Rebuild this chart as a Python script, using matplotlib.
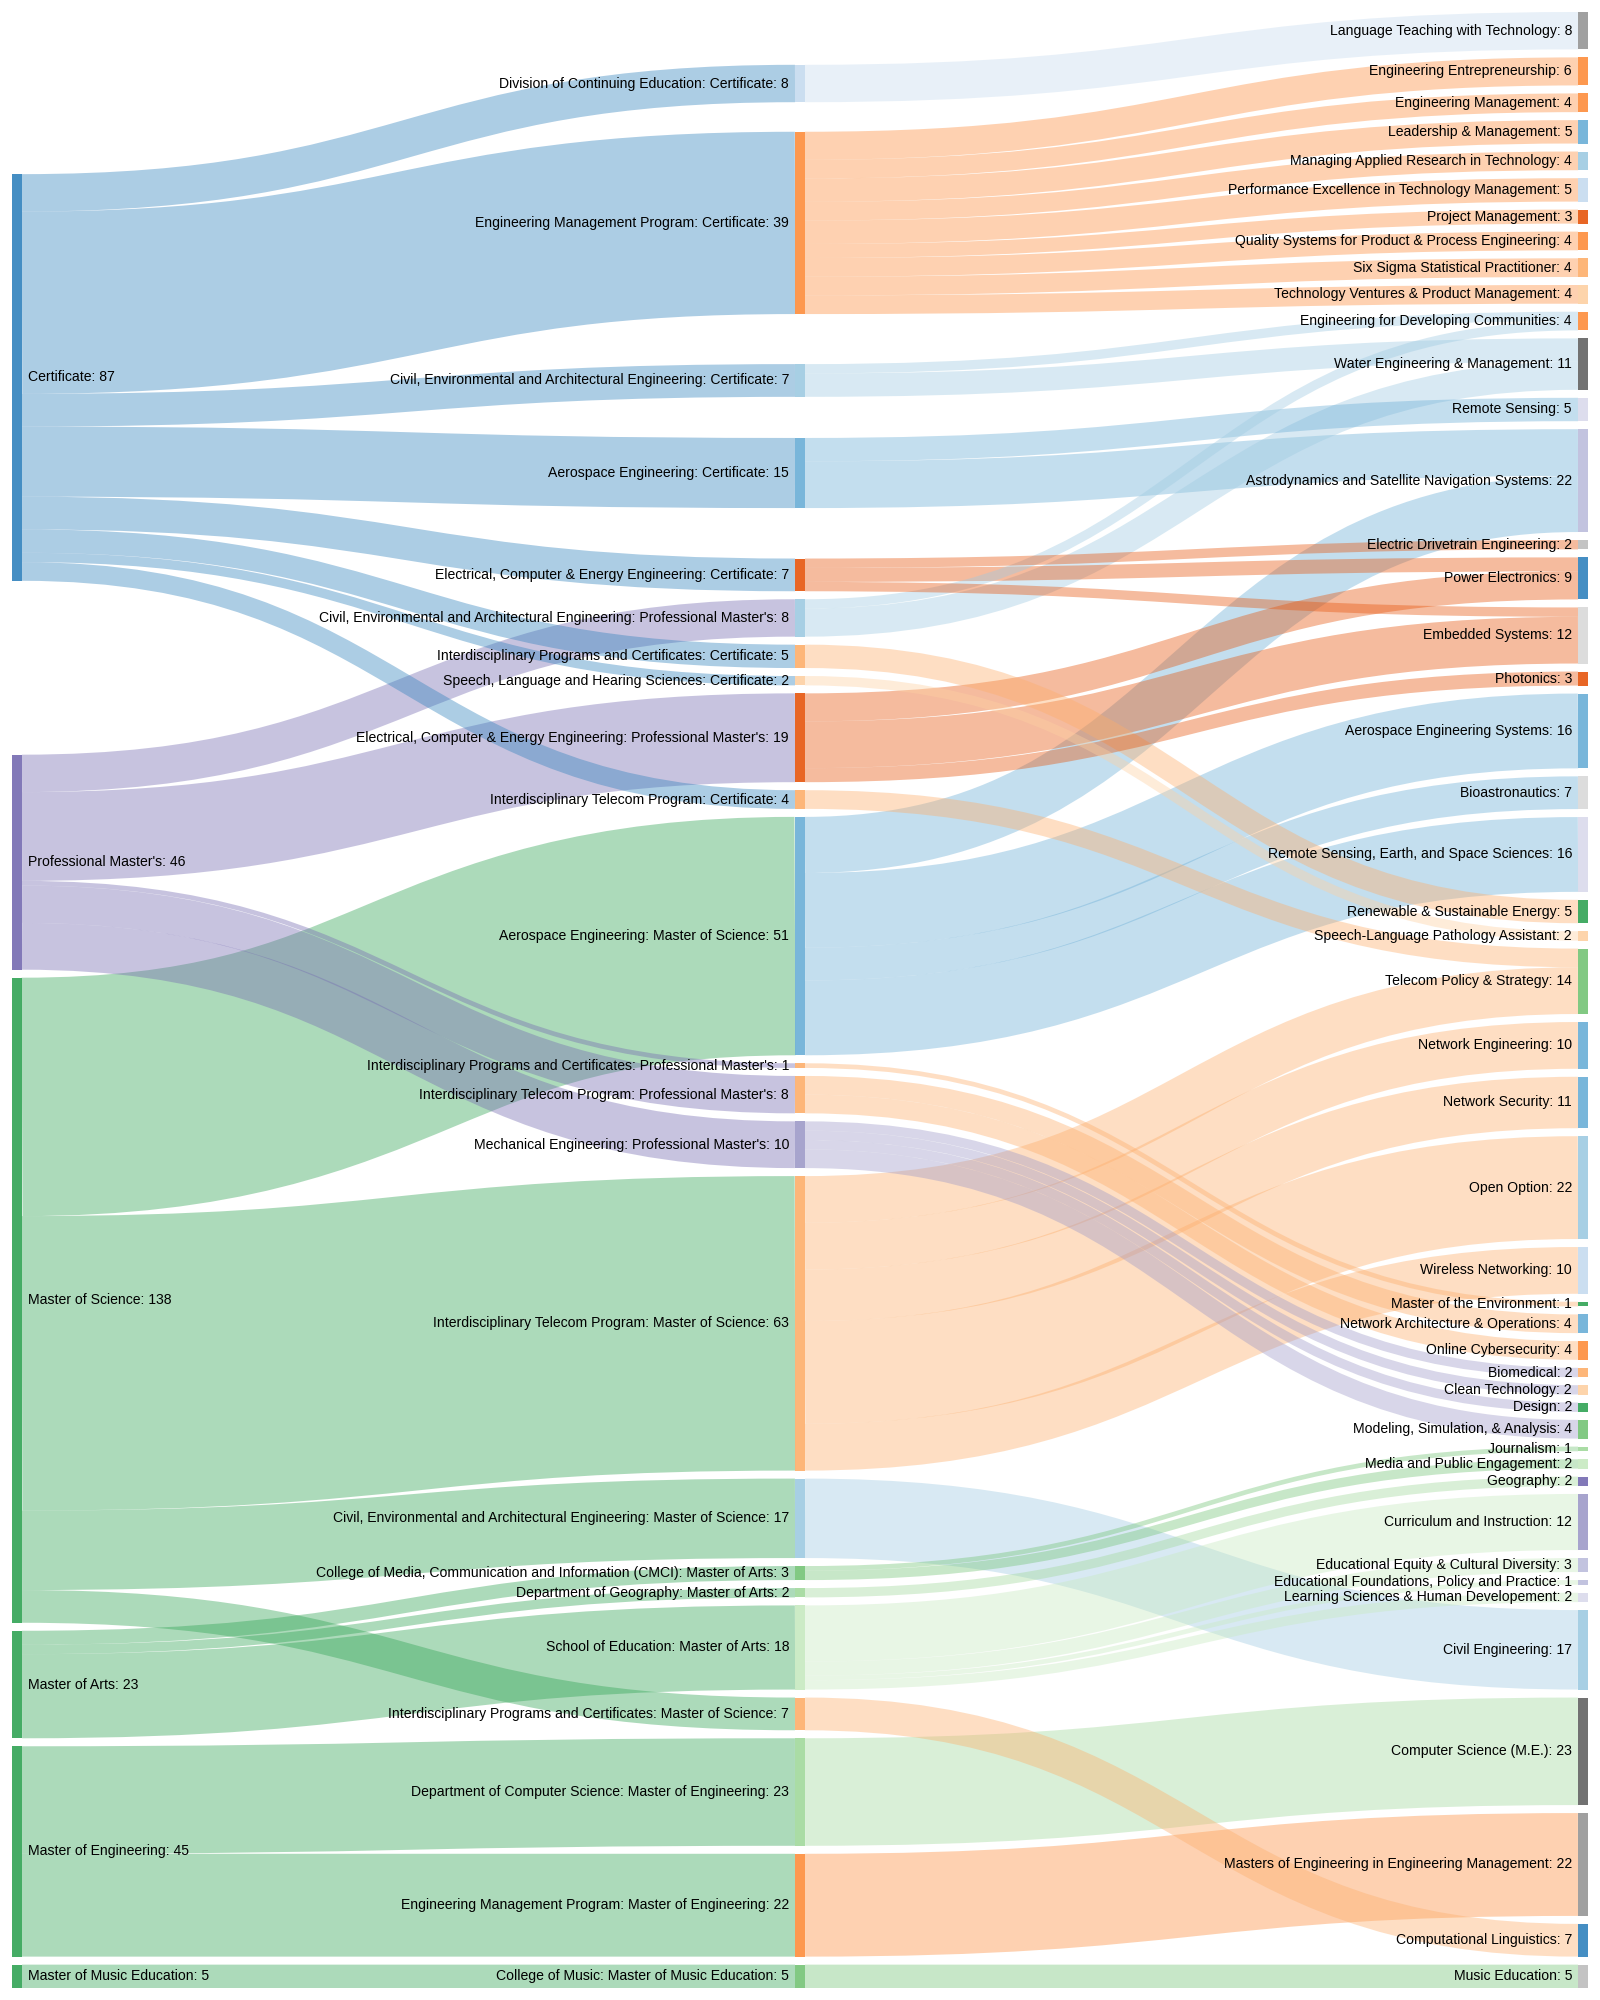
import re

import matplotlib

matplotlib.use("Agg")
import matplotlib.pyplot as plt
from matplotlib.patches import PathPatch, Rectangle
from matplotlib.path import Path

# ---- data -----------------------------------------------------------------

DEGREES = [
    "Certificate",
    "Professional Master's",
    "Master of Science",
    "Master of Arts",
    "Master of Engineering",
    "Master of Music Education",
]

# degree -> program (middle column, in display order)
PROGRAM_SOURCE = [
    "Certificate", "Certificate", "Certificate", "Certificate", "Certificate",
    "Professional Master's", "Certificate", "Certificate", "Professional Master's",
    "Certificate", "Master of Science", "Professional Master's", "Professional Master's",
    "Professional Master's", "Master of Science", "Master of Science", "Master of Arts",
    "Master of Arts", "Master of Arts", "Master of Science", "Master of Engineering",
    "Master of Engineering", "Master of Music Education",
]
PROGRAMS = [
    "Division of Continuing Education: Certificate",
    "Engineering Management Program: Certificate",
    "Civil, Environmental and Architectural Engineering: Certificate",
    "Aerospace Engineering: Certificate",
    "Electrical, Computer & Energy Engineering: Certificate",
    "Civil, Environmental and Architectural Engineering: Professional Master's",
    "Interdisciplinary Programs and Certificates: Certificate",
    "Speech, Language and Hearing Sciences: Certificate",
    "Electrical, Computer & Energy Engineering: Professional Master's",
    "Interdisciplinary Telecom Program: Certificate",
    "Aerospace Engineering: Master of Science",
    "Interdisciplinary Programs and Certificates: Professional Master's",
    "Interdisciplinary Telecom Program: Professional Master's",
    "Mechanical Engineering: Professional Master's",
    "Interdisciplinary Telecom Program: Master of Science",
    "Civil, Environmental and Architectural Engineering: Master of Science",
    "College of Media, Communication and Information (CMCI): Master of Arts",
    "Department of Geography: Master of Arts",
    "School of Education: Master of Arts",
    "Interdisciplinary Programs and Certificates: Master of Science",
    "Department of Computer Science: Master of Engineering",
    "Engineering Management Program: Master of Engineering",
    "College of Music: Master of Music Education",
]
PROGRAM_VALUE = [8, 39, 7, 15, 7, 8, 5, 2, 19, 4, 51, 1, 8, 10, 63, 17, 3, 2, 18, 7, 23, 22, 5]

# program -> track (right column, in display order)
TRACK_SOURCE = [
    "Division of Continuing Education: Certificate",
    "Engineering Management Program: Certificate",
    "Engineering Management Program: Certificate",
    "Engineering Management Program: Certificate",
    "Engineering Management Program: Certificate",
    "Engineering Management Program: Certificate",
    "Engineering Management Program: Certificate",
    "Engineering Management Program: Certificate",
    "Engineering Management Program: Certificate",
    "Engineering Management Program: Certificate",
    "Civil, Environmental and Architectural Engineering: Certificate",
    "Civil, Environmental and Architectural Engineering: Professional Master's",
    "Civil, Environmental and Architectural Engineering: Certificate",
    "Civil, Environmental and Architectural Engineering: Professional Master's",
    "Aerospace Engineering: Certificate",
    "Aerospace Engineering: Certificate",
    "Aerospace Engineering: Master of Science",
    "Electrical, Computer & Energy Engineering: Certificate",
    "Electrical, Computer & Energy Engineering: Certificate",
    "Electrical, Computer & Energy Engineering: Professional Master's",
    "Electrical, Computer & Energy Engineering: Certificate",
    "Electrical, Computer & Energy Engineering: Professional Master's",
    "Electrical, Computer & Energy Engineering: Professional Master's",
    "Aerospace Engineering: Master of Science",
    "Aerospace Engineering: Master of Science",
    "Aerospace Engineering: Master of Science",
    "Interdisciplinary Programs and Certificates: Certificate",
    "Speech, Language and Hearing Sciences: Certificate",
    "Interdisciplinary Telecom Program: Certificate",
    "Interdisciplinary Telecom Program: Master of Science",
    "Interdisciplinary Telecom Program: Master of Science",
    "Interdisciplinary Telecom Program: Master of Science",
    "Interdisciplinary Telecom Program: Master of Science",
    "Interdisciplinary Telecom Program: Master of Science",
    "Interdisciplinary Programs and Certificates: Professional Master's",
    "Interdisciplinary Telecom Program: Professional Master's",
    "Interdisciplinary Telecom Program: Professional Master's",
    "Mechanical Engineering: Professional Master's",
    "Mechanical Engineering: Professional Master's",
    "Mechanical Engineering: Professional Master's",
    "Mechanical Engineering: Professional Master's",
    "College of Media, Communication and Information (CMCI): Master of Arts",
    "College of Media, Communication and Information (CMCI): Master of Arts",
    "Department of Geography: Master of Arts",
    "School of Education: Master of Arts",
    "School of Education: Master of Arts",
    "School of Education: Master of Arts",
    "School of Education: Master of Arts",
    "Civil, Environmental and Architectural Engineering: Master of Science",
    "Department of Computer Science: Master of Engineering",
    "Engineering Management Program: Master of Engineering",
    "Interdisciplinary Programs and Certificates: Master of Science",
    "College of Music: Master of Music Education",
]
TRACK_TARGET = [
    "Language Teaching with Technology",
    "Engineering Entrepreneurship",
    "Engineering Management",
    "Leadership & Management",
    "Managing Applied Research in Technology",
    "Performance Excellence in Technology Management",
    "Project Management",
    "Quality Systems for Product & Process Engineering",
    "Six Sigma Statistical Practitioner",
    "Technology Ventures & Product Management",
    "Engineering for Developing Communities",
    "Engineering for Developing Communities",
    "Water Engineering & Management",
    "Water Engineering & Management",
    "Remote Sensing",
    "Astrodynamics and Satellite Navigation Systems",
    "Astrodynamics and Satellite Navigation Systems",
    "Electric Drivetrain Engineering",
    "Power Electronics",
    "Power Electronics",
    "Embedded Systems",
    "Embedded Systems",
    "Photonics",
    "Aerospace Engineering Systems",
    "Bioastronautics",
    "Remote Sensing, Earth, and Space Sciences",
    "Renewable & Sustainable Energy",
    "Speech-Language Pathology Assistant",
    "Telecom Policy & Strategy",
    "Telecom Policy & Strategy",
    "Network Engineering",
    "Network Security",
    "Open Option",
    "Wireless Networking",
    "Master of the Environment",
    "Network Architecture & Operations",
    "Online Cybersecurity",
    "Biomedical",
    "Clean Technology",
    "Design",
    "Modeling, Simulation, & Analysis",
    "Journalism",
    "Media and Public Engagement",
    "Geography",
    "Curriculum and Instruction",
    "Educational Equity & Cultural Diversity",
    "Educational Foundations, Policy and Practice",
    "Learning Sciences & Human Developement",
    "Civil Engineering",
    "Computer Science (M.E.)",
    "Masters of Engineering in Engineering Management",
    "Computational Linguistics",
    "Music Education",
]
TRACK_VALUE = [
    8, 6, 4, 5, 4, 5, 3, 4, 4, 4, 2, 2, 5, 6, 5, 10, 12, 2, 3, 6, 2, 10, 3,
    16, 7, 16, 5, 2, 4, 10, 10, 11, 22, 10, 1, 4, 4, 2, 2, 2, 4, 1, 2, 2,
    12, 3, 1, 2, 17, 23, 22, 7, 5,
]

# ---- style ----------------------------------------------------------------

PALETTE = [
    "#3182bd", "#6baed6", "#9ecae1", "#c6dbef", "#e6550d", "#fd8d3c", "#fdae6b", "#fdd0a2",
    "#31a354", "#74c476", "#a1d99b", "#c7e9c0", "#756bb1", "#9e9ac8", "#bcbddc", "#dadaeb",
    "#636363", "#969696", "#bdbdbd", "#d9d9d9",
]
# colour keys (first word of the name), in the order the ordinal scale saw them
COLOR_KEYS = [
    "Certificate", "Aerospace", "Civil", "Division", "Electrical", "Engineering",
    "Interdisciplinary", "Speech", "Master", "College", "Department", "School",
    "Professional", "Mechanical", "Astrodynamics", "Remote", "Water", "Language",
    "Electric", "Embedded", "Power", "Leadership", "Managing", "Performance", "Project",
    "Quality", "Six", "Technology", "Renewable", "Telecom", "Journalism", "Media",
    "Geography", "Curriculum", "Educational", "Learning", "Computer", "Masters", "Music",
    "Bioastronautics", "Computational", "Network", "Open", "Wireless", "Photonics",
    "Online", "Biomedical", "Clean", "Design", "Modeling",
]

W, H = 1600, 2000
MARGIN = 12
NODE_W = 10
NODE_PAD = 8
ITERATIONS = 32
FONT_SIZE = 14 * 0.72


def node_color(name):
    key = re.match(r"[A-Za-z]+", name).group(0)
    return PALETTE[COLOR_KEYS.index(key) % len(PALETTE)]


# ---- sankey layout (d3-sankey style, column order kept as listed) ---------

def build_graph():
    tracks = list(dict.fromkeys(TRACK_TARGET))
    columns = [DEGREES, PROGRAMS, tracks]
    nodes = {}
    for col, names in enumerate(columns):
        for i, name in enumerate(names):
            nodes[name] = {"name": name, "col": col, "y": i, "src": [], "tgt": []}

    links = []
    for s, t, v in list(zip(PROGRAM_SOURCE, PROGRAMS, PROGRAM_VALUE)) + list(
        zip(TRACK_SOURCE, TRACK_TARGET, TRACK_VALUE)
    ):
        link = {"source": nodes[s], "target": nodes[t], "value": v}
        nodes[s]["src"].append(link)
        nodes[t]["tgt"].append(link)
        links.append(link)

    for node in nodes.values():
        node["value"] = max(sum(l["value"] for l in node["src"]), sum(l["value"] for l in node["tgt"]))

    by_col = [[nodes[n] for n in names] for names in columns]
    return nodes, links, by_col


def layout(nodes, links, by_col):
    inner_w = W - 2 * MARGIN
    inner_h = H - 2 * MARGIN
    kx = (inner_w - NODE_W) / (len(by_col) - 1)
    for col_nodes in by_col:
        for node in col_nodes:
            node["x"] = MARGIN + node["col"] * kx

    ky = min((inner_h - (len(c) - 1) * NODE_PAD) / sum(n["value"] for n in c) for c in by_col)
    for col_nodes in by_col:
        for node in col_nodes:
            node["dy"] = node["value"] * ky
    for link in links:
        link["dy"] = link["value"] * ky

    def center(n):
        return n["y"] + n["dy"] / 2

    def resolve():
        for col_nodes in by_col:
            y0 = 0.0
            for n in col_nodes:
                d = y0 - n["y"]
                if d > 0:
                    n["y"] += d
                y0 = n["y"] + n["dy"] + NODE_PAD
            d = y0 - NODE_PAD - inner_h
            if d > 0:
                last = col_nodes[-1]
                last["y"] -= d
                y0 = last["y"]
                for n in reversed(col_nodes[:-1]):
                    d = n["y"] + n["dy"] + NODE_PAD - y0
                    if d > 0:
                        n["y"] -= d
                    y0 = n["y"]

    def relax_right_to_left(alpha):
        for col_nodes in reversed(by_col):
            for n in col_nodes:
                if n["src"]:
                    y = sum(center(l["target"]) * l["value"] for l in n["src"]) / sum(
                        l["value"] for l in n["src"]
                    )
                    n["y"] += (y - center(n)) * alpha

    def relax_left_to_right(alpha):
        for col_nodes in by_col:
            for n in col_nodes:
                if n["tgt"]:
                    y = sum(center(l["source"]) * l["value"] for l in n["tgt"]) / sum(
                        l["value"] for l in n["tgt"]
                    )
                    n["y"] += (y - center(n)) * alpha

    resolve()
    alpha = 1.0
    for _ in range(ITERATIONS):
        alpha *= 0.99
        relax_left_to_right(alpha)
        resolve()
        relax_right_to_left(alpha)
        resolve()

    for n in nodes.values():
        n["y"] += MARGIN
        n["src"].sort(key=lambda l: l["target"]["y"])
        n["tgt"].sort(key=lambda l: l["source"]["y"])
        sy = 0.0
        for l in n["src"]:
            l["sy"] = sy
            sy += l["dy"]
        ty = 0.0
        for l in n["tgt"]:
            l["ty"] = ty
            ty += l["dy"]


def draw(nodes, links, out_path):
    fig = plt.figure(figsize=(W / 100, H / 100), dpi=100)
    ax = fig.add_axes([0, 0, 1, 1])
    ax.set_xlim(0, W)
    ax.set_ylim(H, 0)
    ax.axis("off")

    for link in sorted(links, key=lambda l: -l["dy"]):
        s, t = link["source"], link["target"]
        x0 = s["x"] + NODE_W
        x1 = t["x"]
        xm = (x0 + x1) / 2
        y0 = s["y"] + link["sy"] + link["dy"] / 2
        y1 = t["y"] + link["ty"] + link["dy"] / 2
        path = Path(
            [(x0, y0), (xm, y0), (xm, y1), (x1, y1)],
            [Path.MOVETO, Path.CURVE4, Path.CURVE4, Path.CURVE4],
        )
        ax.add_patch(
            PathPatch(
                path,
                facecolor="none",
                edgecolor=node_color(s["name"]),
                alpha=0.4,
                lw=max(1.0, link["dy"]) * 0.72,
                capstyle="butt",
            )
        )

    for node in nodes.values():
        ax.add_patch(
            Rectangle(
                (node["x"], node["y"]), NODE_W, node["dy"],
                facecolor=node_color(node["name"]), edgecolor="none", alpha=0.9,
            )
        )
        label = f"{node['name']}: {node['value']}"
        yc = node["y"] + node["dy"] / 2
        if node["col"] == 0:
            ax.text(node["x"] + NODE_W + 6, yc, label, ha="left", va="center", fontsize=FONT_SIZE)
        else:
            ax.text(node["x"] - 6, yc, label, ha="right", va="center", fontsize=FONT_SIZE)

    fig.savefig(out_path, dpi=100, facecolor="white")
    plt.close(fig)


def main():
    plt.rcParams["font.family"] = ["Liberation Sans", "DejaVu Sans"]
    nodes, links, by_col = build_graph()
    layout(nodes, links, by_col)
    draw(nodes, links, "out.png")


if __name__ == "__main__":
    main()
